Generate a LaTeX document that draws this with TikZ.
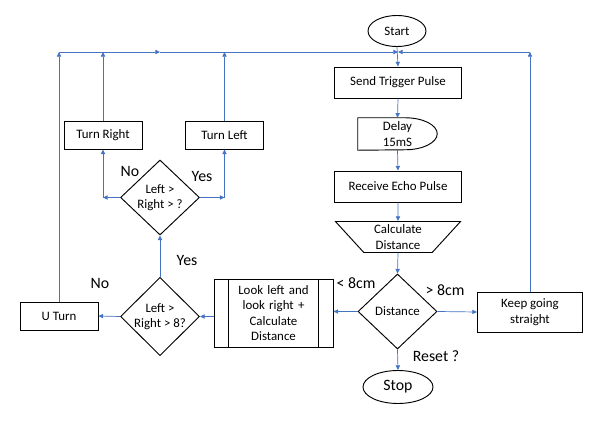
\documentclass[tikz,border=0pt]{standalone}
\usepackage{fontspec}
\setmainfont{Carlito}
\usetikzlibrary{shapes.geometric,arrows.meta}
\definecolor{flowblue}{RGB}{68,114,196}

\begin{document}
\begin{tikzpicture}[
    x=0.03cm,y=-0.03cm,
    flow/.style={draw=flowblue,line width=0.6pt,-{Triangle[length=4pt,width=3.6pt]}},
    process/.style={rectangle,draw,line width=0.8pt,inner sep=0pt,minimum width=2.34cm,minimum height=0.84cm,font=\fontsize{11}{13.2}\selectfont,align=center},
    terminal/.style={ellipse,draw,line width=0.8pt,inner sep=0pt,font=\fontsize{11}{13.2}\selectfont},
    decision/.style={diamond,draw,line width=0.8pt,inner sep=0pt,minimum width=2.37cm,minimum height=2.25cm,font=\fontsize{11}{13.2}\selectfont,align=center},
    answer/.style={font=\fontsize{13.5}{15}\selectfont}
    ]

    \useasboundingbox (0,0) rectangle (602,421);

    \node (start) [terminal,minimum width=1.74cm,minimum height=0.93cm] at (397,31) {Start};
    \node (send) [process,minimum width=3.81cm,minimum height=0.93cm] at (398,82.5) {Send Trigger Pulse};

    \node (delay) [inner sep=0pt,minimum width=2.37cm,minimum height=0.96cm,font=\fontsize{11}{13.2}\selectfont,align=center] at (397.5,134) {Delay\\15mS};
    \draw[line width=0.8pt] (delay.north west) -- ([xshift=-0.96cm]delay.north east)
      arc[start angle=90,end angle=-90,x radius=0.96cm,y radius=0.48cm] -- (delay.south west) -- cycle;

    \node (receive) [process,minimum width=3.81cm,minimum height=0.93cm] at (398,186.5) {Receive Echo Pulse};
    \node (calc) [trapezium,draw,line width=0.8pt,inner sep=0pt,trapezium stretches=true,shape border rotate=180,
      trapezium left angle=51,trapezium right angle=51,minimum width=3.78cm,minimum height=0.93cm,
      font=\fontsize{11}{13.2}\selectfont,align=center] at (398,237) {Calculate\\Distance};
    \node (dist) [decision] at (397.5,311.5) {Distance};
    \node (stop) [terminal,minimum width=2.1cm,minimum height=0.99cm,font=\fontsize{13.5}{15}\selectfont] at (398,387) {Stop};
    \node (keep) [process,minimum width=3.15cm,minimum height=1.2cm] at (530,312) {Keep going\\straight};

    \node (look) [process,minimum width=3.57cm,minimum height=2.04cm,text width=2.6cm] at (273.5,313) {Look left and\\look right +\\Calculate\\Distance};
    \draw[line width=0.8pt] ([xshift=0.45cm]look.north west) -- ([xshift=0.45cm]look.south west);
    \draw[line width=0.8pt] ([xshift=-0.45cm]look.north east) -- ([xshift=-0.45cm]look.south east);

    \node (q2) [decision] at (160,316.5) {Left >\\Right > 8?};
    \node (uturn) [process] at (59,316) {U Turn};
    \node (q1) [decision] at (160,197.5) {Left >\\Right > ?};
    \node (tright) [process] at (103,135) {Turn Right};
    \node (tleft) [process] at (224.5,135) {Turn Left};

    \node [answer] at (130,171) {No};
    \node [answer] at (202,176) {Yes};
    \node [answer] at (100,283) {No};
    \node [answer] at (187,260) {Yes};
    \node [answer] at (356,283) {< 8cm};
    \node [answer] at (445,290) {> 8cm};
    \node [answer] at (436,356) {Reset ?};

    \coordinate (top) at (398,52);
    \coordinate (mid) at (160,52);
    \coordinate (qr) at (q1.west -| tright.south);
    \coordinate (ql) at (q1.east -| tleft.south);

    \draw[flow] (start.south) -- (send.north);
    \draw[flow] (send.south) -- (delay.north);
    \draw[flow] (delay.south) -- (receive.north);
    \draw[flow] (receive.south) -- (calc.north);
    \draw[flow] (calc.south) -- (dist.north);
    \draw[flow] (dist.south) -- (stop.north);
    \draw[flow] (dist.east) -- (keep.west);
    \draw[flow] (dist.west) -- (dist.west -| look.east);
    \draw[flow] (q2.east -| look.west) -- (q2.east);
    \draw[flow] (q2.west) -- (uturn.east);
    \draw[flow] (q2.north) -- (q1.south);

    \draw[flow] (q1.west) -- (qr);
    \draw[flow] (qr) -- (tright.south);
    \draw[flow] (q1.east) -- (ql);
    \draw[flow] (ql) -- (tleft.south);

    \foreach \n in {uturn,tright,tleft,keep}
      \draw[flow] (\n.north) -- (\n.north |- top);
    \draw[flow] (uturn.north |- top) -- (mid);
    \draw[flow] (mid) -- (top);
    \draw[flow] (keep.north |- top) -- (top);

  \end{tikzpicture}
\end{document}
